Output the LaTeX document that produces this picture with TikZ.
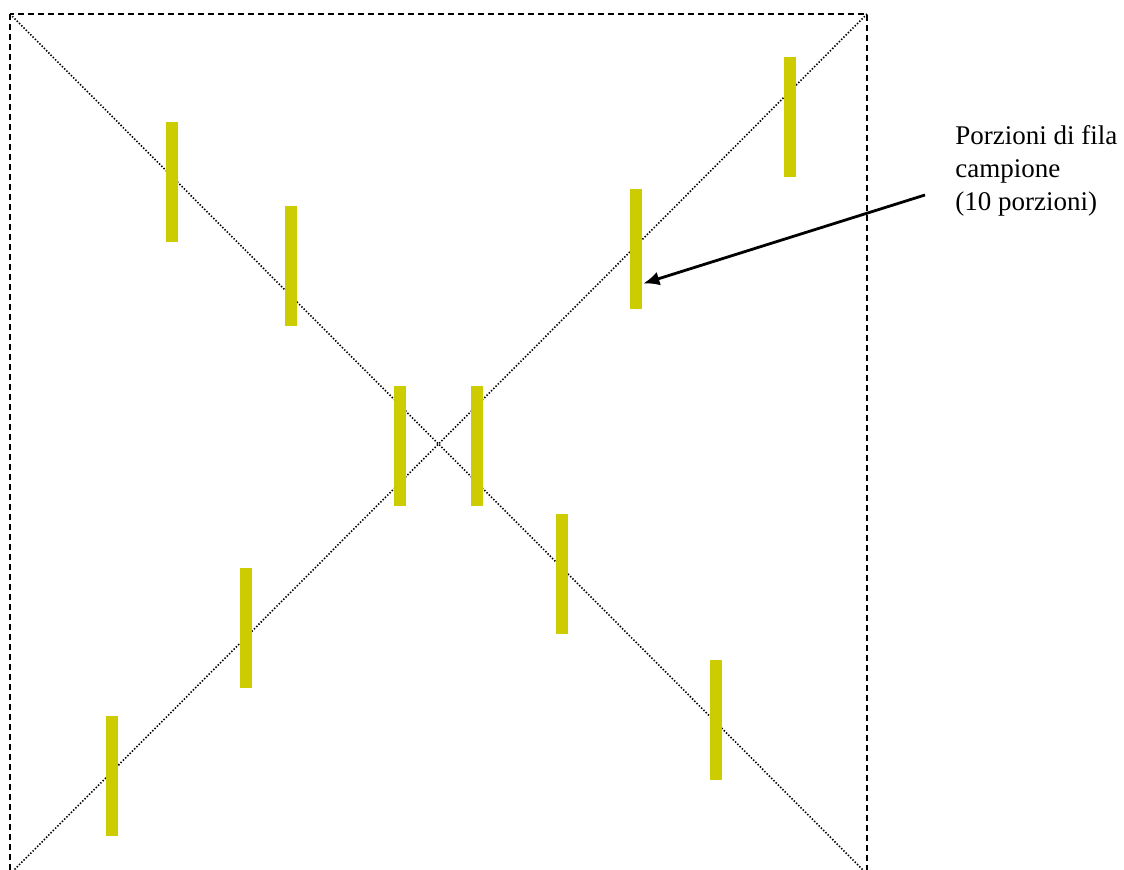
\documentclass[tikz,border=0pt]{standalone}
\usepackage{fontspec}
\setmainfont{Liberation Serif}
\usetikzlibrary{
    arrows.meta,
    calc,
}
\definecolor{portionyellow}{RGB}{204,204,0}

\begin{document}
\begin{tikzpicture}[
        x=0.5pt, y=-0.5pt,
        portion/.style={rectangle, fill=portionyellow, inner sep=0pt, minimum width=6pt, minimum height=60pt},
        frame/.style={draw=black, line width=1pt, dash pattern=on 3pt off 2pt},
        diag/.style={draw=black, line width=0.8pt, dash pattern=on 0.7pt off 0.9pt},
        pointer/.style={draw=black, line width=1.4pt, -{Latex[length=8pt, width=7pt]}},
        note/.style={align=left, font=\fontsize{13.5}{16.5}\selectfont, inner sep=0pt, anchor=west},
        ]
        \useasboundingbox (0,0) rectangle (1124,870);
        \coordinate (TL) at (10,14);
        \coordinate (BR) at (867,874);
        \coordinate (TR) at (867,14);
        \coordinate (BL) at (10,874);
        \draw[frame] (TL) rectangle (BR);
        \draw[diag] (TL) -- (BR);
        \draw[diag] (BL) -- (TR);
        \node[portion] (P1)  at (171.5,182) {};
        \node[portion] (P2)  at (291,266)   {};
        \node[portion] (P3)  at (400,446)   {};
        \node[portion] (P4)  at (476.5,446) {};
        \node[portion] (P5)  at (561.5,574) {};
        \node[portion] (P6)  at (716,720)   {};
        \node[portion] (P7)  at (245.5,628) {};
        \node[portion] (P8)  at (111.5,776) {};
        \node[portion] (P9)  at (636,249.5) {};
        \node[portion] (P10) at (789.5,117) {};
        \node[note] (LBL) at (955,171) {Porzioni di fila\\campione\\(10 porzioni)};
        \coordinate (TAIL) at (925,195);
        \draw[pointer] (TAIL) -- ($(P9.east)+(1,34)$);
    \end{tikzpicture}
\end{document}
